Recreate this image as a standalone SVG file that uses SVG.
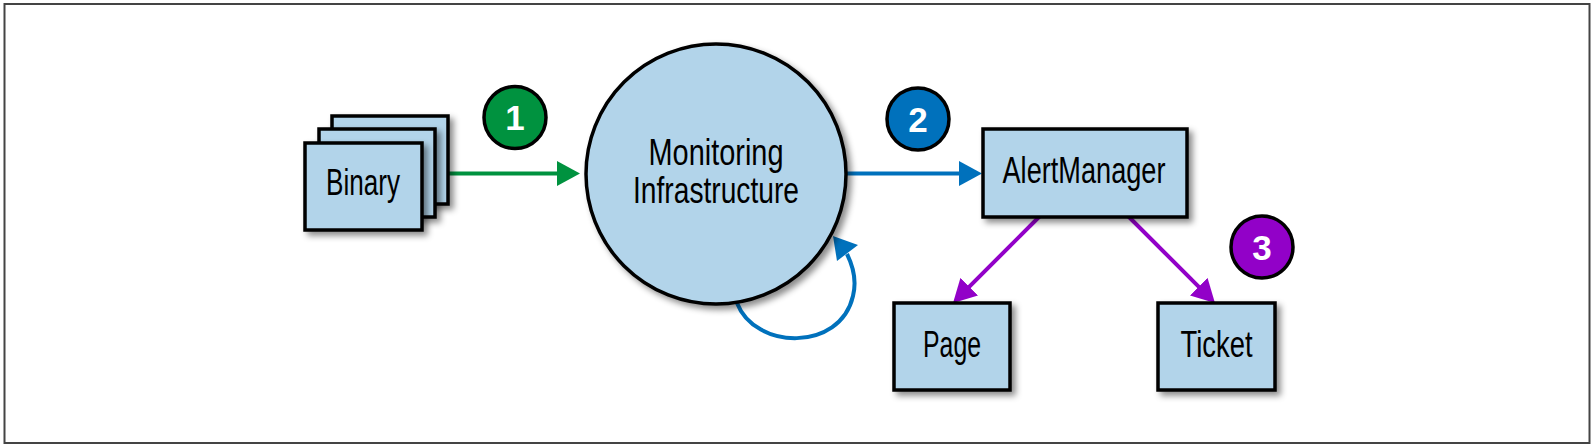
<svg xmlns="http://www.w3.org/2000/svg" width="1594" height="448" viewBox="0 0 1594 448">
  <style>
    .box { fill: #b2d4ea; stroke: #000; stroke-width: 3.5; }
    .lbl { font-family: "Liberation Sans", Arial, sans-serif; font-size: 36px; fill: #000; text-anchor: middle; }
    .num { font-family: "Liberation Sans", Arial, sans-serif; font-size: 35px; font-weight: bold; fill: #fff; text-anchor: middle; }
    .badge { stroke: #000; stroke-width: 3.5; }
    .conn { fill: none; stroke-width: 4; }
  </style>
  <defs>
    <filter id="sh" x="-20%" y="-20%" width="150%" height="150%">
      <feDropShadow dx="4" dy="4" stdDeviation="3" flood-color="#000" flood-opacity="0.45"/>
    </filter>
    <marker id="ag" markerUnits="userSpaceOnUse" markerWidth="23" markerHeight="25" refX="14" refY="12.5" orient="auto">
      <path d="M0,0 L23,12.5 L0,25 z" fill="#00923f"/>
    </marker>
    <marker id="ab" markerUnits="userSpaceOnUse" markerWidth="23" markerHeight="25" refX="14" refY="12.5" orient="auto">
      <path d="M0,0 L23,12.5 L0,25 z" fill="#0071bc"/>
    </marker>
    <marker id="ap" markerUnits="userSpaceOnUse" markerWidth="23" markerHeight="25" refX="14" refY="12.5" orient="auto">
      <path d="M0,0 L23,12.5 L0,25 z" fill="#9201c8"/>
    </marker>
  </defs>

  <rect x="4.5" y="4" width="1585" height="439" fill="#fff" stroke="#444" stroke-width="2"/>

  <g id="connectors">
    <line class="conn" x1="440" y1="173.5" x2="571" y2="173.5" stroke="#00923f" marker-end="url(#ag)"/>
    <line class="conn" x1="846" y1="173.5" x2="973" y2="173.5" stroke="#0071bc" marker-end="url(#ab)"/>
    <line class="conn" x1="1040" y1="216" x2="959.4" y2="296.6" stroke="#9201c8" marker-end="url(#ap)"/>
    <line class="conn" x1="1128" y1="216" x2="1208.6" y2="296.6" stroke="#9201c8" marker-end="url(#ap)"/>
    <path class="conn" d="M737,303 C755,350 840,352 853,296 C857,280 853,266 847,254" stroke="#0071bc" stroke-width="4.5"/>
    <polygon points="833,236 837,261 858,245" fill="#0071bc"/>
  </g>

  <g id="binary">
    <rect class="box" x="332" y="116" width="116" height="88" filter="url(#sh)"/>
    <rect class="box" x="319" y="129" width="116" height="88" filter="url(#sh)"/>
    <rect class="box" x="305" y="143" width="117" height="87" filter="url(#sh)"/>
    <text class="lbl" x="363" y="195" textLength="74" lengthAdjust="spacingAndGlyphs">Binary</text>
  </g>

  <g id="monitoring">
    <circle class="box" cx="716" cy="174" r="130" filter="url(#sh)"/>
    <text class="lbl" x="716" y="165" textLength="135" lengthAdjust="spacingAndGlyphs">Monitoring</text>
    <text class="lbl" x="716" y="203" textLength="166" lengthAdjust="spacingAndGlyphs">Infrastructure</text>
  </g>

  <g id="alertmanager">
    <rect class="box" x="983" y="129" width="204" height="88" filter="url(#sh)"/>
    <text class="lbl" x="1084" y="183" textLength="163" lengthAdjust="spacingAndGlyphs">AlertManager</text>
  </g>

  <g id="page">
    <rect class="box" x="894" y="303" width="116" height="87" filter="url(#sh)"/>
    <text class="lbl" x="952" y="357" textLength="58" lengthAdjust="spacingAndGlyphs">Page</text>
  </g>

  <g id="ticket">
    <rect class="box" x="1158" y="303" width="117" height="87" filter="url(#sh)"/>
    <text class="lbl" x="1216.5" y="357" textLength="72" lengthAdjust="spacingAndGlyphs">Ticket</text>
  </g>

  <g id="badge1">
    <circle class="badge" cx="515" cy="117.5" r="31" fill="#00923f"/>
    <text class="num" x="515" y="130">1</text>
  </g>
  <g id="badge2">
    <circle class="badge" cx="918" cy="119" r="31" fill="#0071bc"/>
    <text class="num" x="918" y="131.5">2</text>
  </g>
  <g id="badge3">
    <circle class="badge" cx="1262" cy="247" r="31" fill="#9201c8"/>
    <text class="num" x="1262" y="259.5">3</text>
  </g>
</svg>
